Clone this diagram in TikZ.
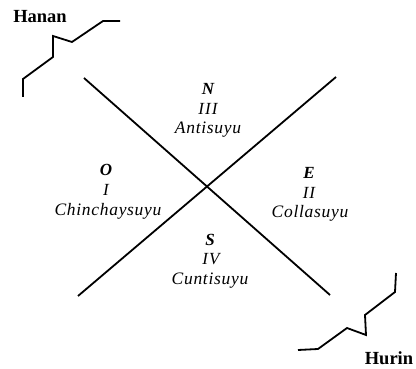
\documentclass[tikz,border=0pt]{standalone}
\usepackage{fontspec}
\setmainfont{Liberation Serif}
\usetikzlibrary{positioning}

\tikzset{
  dir/.style={font=\fontsize{17}{17}\selectfont\bfseries\itshape, inner sep=0pt},
  num/.style={font=\fontsize{17}{17}\selectfont\itshape\addfontfeature{LetterSpace=6}, inner sep=0pt},
  suyu/.style={font=\fontsize{17.5}{17}\selectfont\itshape\addfontfeature{LetterSpace=4}, inner sep=0pt},
  half/.style={font=\fontsize{18.5}{18}\selectfont\bfseries, inner sep=0pt},
  border/.style={line width=1.8pt, line join=miter}
}

\begin{document}
\begin{tikzpicture}[x=1pt,y=-1pt]
\useasboundingbox (0,0) rectangle (416,369);

% the two diagonals
\draw [line width=1.8pt] (84,78) -- (330,295);
\draw [line width=1.8pt] (78,296) -- (336,77);

% quarters
\node [dir] (n) at (208,89) {N};
\node [num] (n3) at (208,109) {III};
\node [suyu] (anti) at (208,130) {Antisuyu};

\node [dir] (o) at (106,170) {O};
\node [num] (o1) at (106,190) {I};
\node [suyu] (chin) at (108,211) {Chinchaysuyu};

\node [dir] (e) at (309,173) {E};
\node [num] (e2) at (309,193) {II};
\node [suyu] (colla) at (310,213) {Collasuyu};

\node [dir] (s) at (210,240) {S};
\node [num] (s4) at (211,259) {IV};
\node [suyu] (cunti) at (210,281) {Cuntisuyu};

% moieties
\node [half] (hanan) at (40,17) {Hanan};
\draw [border] (23,97) -- (23,79) -- (53,57) -- (53,36) -- (72,42) -- (103,21) -- (120,21);

\node [half] (hurin) at (389,358) {Hurin};
\draw [border] (298,350) -- (318,349) -- (347,328) -- (366,335) -- (365,315) -- (395,292) -- (396,273);
\end{tikzpicture}
\end{document}
